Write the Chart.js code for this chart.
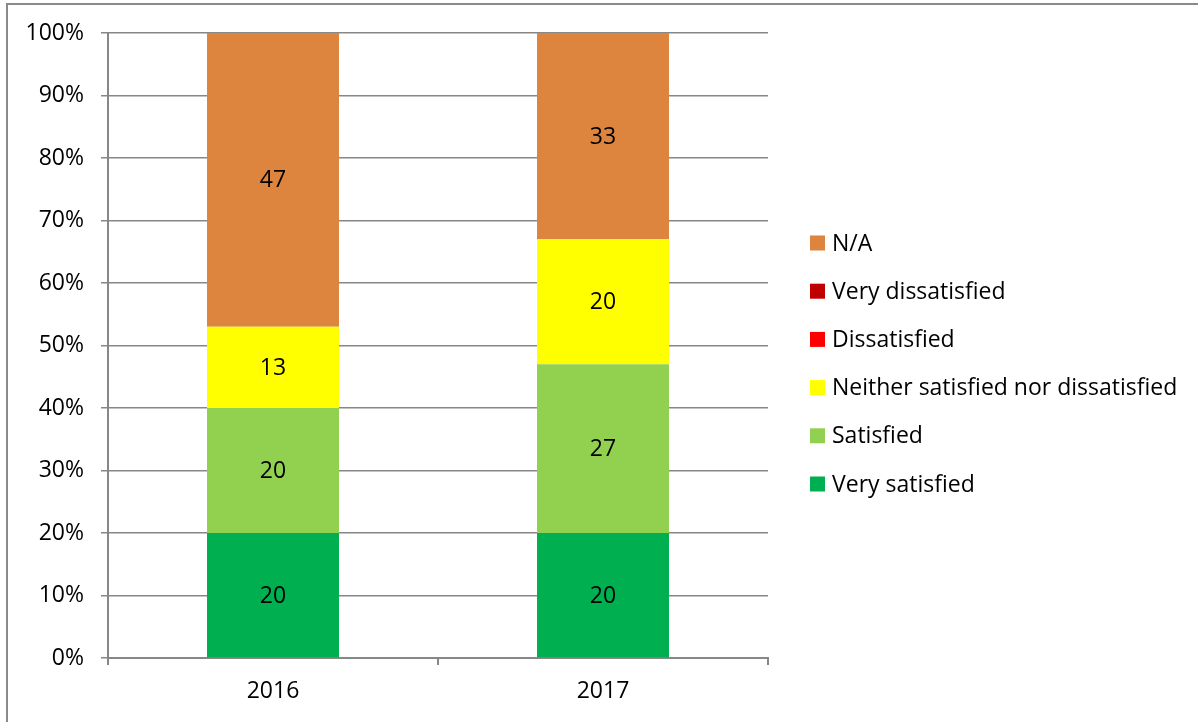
<!DOCTYPE html>
<html>
<head>
<meta charset="utf-8">
<script src="https://cdn.jsdelivr.net/npm/chart.js@4/dist/chart.umd.min.js"></script>
<style>
html,body{margin:0;padding:0;background:#fff;}
#wrap{position:relative;width:1198px;height:722px;overflow:hidden;}
#frame{position:absolute;left:6px;top:3px;width:1300px;height:800px;border-left:2px solid #8a8a8a;border-top:2px solid #8a8a8a;box-sizing:border-box;pointer-events:none;}
canvas{position:absolute;left:0;top:0;}
</style>
</head>
<body>
<div id="wrap">
<canvas id="c" width="1198" height="722"></canvas>
<div id="frame"></div>
</div>
<script>
const categories = ['2016', '2017'];
const seriesNames = ['Very satisfied', 'Satisfied', 'Neither satisfied nor dissatisfied', 'Dissatisfied', 'Very dissatisfied', 'N/A'];
const verySatisfied = [20, 20];
const satisfied = [20, 27];
const neither = [13, 20];
const dissatisfied = [0, 0];
const veryDissatisfied = [0, 0];
const notApplicable = [47, 33];
const seriesColors = ['#00B050', '#92D050', '#FFFF00', '#FF0000', '#C00000', '#DD843E'];
const yTickLabels = ['0%','10%','20%','30%','40%','50%','60%','70%','80%','90%','100%'];

const seriesValues = [verySatisfied, satisfied, neither, dissatisfied, veryDissatisfied, notApplicable];
const totals = categories.map((_, i) => seriesValues.reduce((s, arr) => s + arr[i], 0));

const FONT = '"Open Sans", Lato, sans-serif';
const FS = 23;
const GRID = '#878787';

const datasets = seriesNames.map((name, k) => ({
  label: name,
  data: seriesValues[k].map((v, i) => v / totals[i] * 100),
  raw: seriesValues[k],
  backgroundColor: seriesColors[k],
  borderWidth: 0,
  categoryPercentage: 1.0,
  barPercentage: 0.4
}));

const labelPlugin = {
  id: 'valueLabels',
  afterDatasetsDraw(chart) {
    const ctx = chart.ctx;
    ctx.save();
    ctx.font = FS + 'px ' + FONT;
    ctx.fillStyle = '#000';
    ctx.textAlign = 'center';
    ctx.textBaseline = 'middle';
    chart.data.datasets.forEach((ds, di) => {
      const meta = chart.getDatasetMeta(di);
      meta.data.forEach((bar, i) => {
        const v = ds.raw[i];
        if (!v) return;
        const yc = (bar.y + bar.base) / 2;
        ctx.fillText(String(v), bar.x, yc + 1);
      });
    });
    ctx.restore();
  }
};

const legendPlugin = {
  id: 'sideLegend',
  afterDraw(chart) {
    const ctx = chart.ctx;
    ctx.save();
    ctx.font = FS + 'px ' + FONT;
    ctx.textAlign = 'left';
    ctx.textBaseline = 'middle';
    const n = chart.data.datasets.length;
    const x0 = 810, yTop = 243, step = 48.2, box = 15;
    for (let j = 0; j < n; j++) {
      const ds = chart.data.datasets[n - 1 - j];
      const y = yTop + j * step;
      ctx.fillStyle = ds.backgroundColor;
      ctx.fillRect(x0, y - box / 2, box, box);
      ctx.fillStyle = '#000';
      ctx.fillText(ds.label, x0 + 22, y + 1);
    }
    ctx.restore();
  }
};

new Chart(document.getElementById('c'), {
  type: 'bar',
  data: { labels: categories, datasets },
  options: {
    responsive: false,
    animation: false,
    layout: { padding: { top: 33, right: 1198 - 768, left: 0, bottom: 0 } },
    plugins: { legend: { display: false }, tooltip: { enabled: false } },
    scales: {
      x: {
        stacked: true,
        offset: true,
        grid: { offset: true, drawOnChartArea: false, drawTicks: true, tickLength: 7, color: GRID, lineWidth: 2 },
        border: { display: true, color: GRID, width: 2 },
        ticks: { color: '#000', font: { family: FONT, size: FS }, padding: 13 },
        afterFit(s) { s.height = 722 - 658; }
      },
      y: {
        stacked: true,
        min: 0, max: 100,
        grid: { color: GRID, lineWidth: 1.5, tickLength: 7 },
        border: { display: true, color: GRID, width: 2 },
        ticks: {
          stepSize: 10,
          color: '#000',
          font: { family: FONT, size: FS },
          padding: 17,
          callback: (v, idx) => yTickLabels[idx]
        },
        afterFit(s) { s.width = 108; }
      }
    }
  },
  plugins: [labelPlugin, legendPlugin]
});
</script>
</body>
</html>
